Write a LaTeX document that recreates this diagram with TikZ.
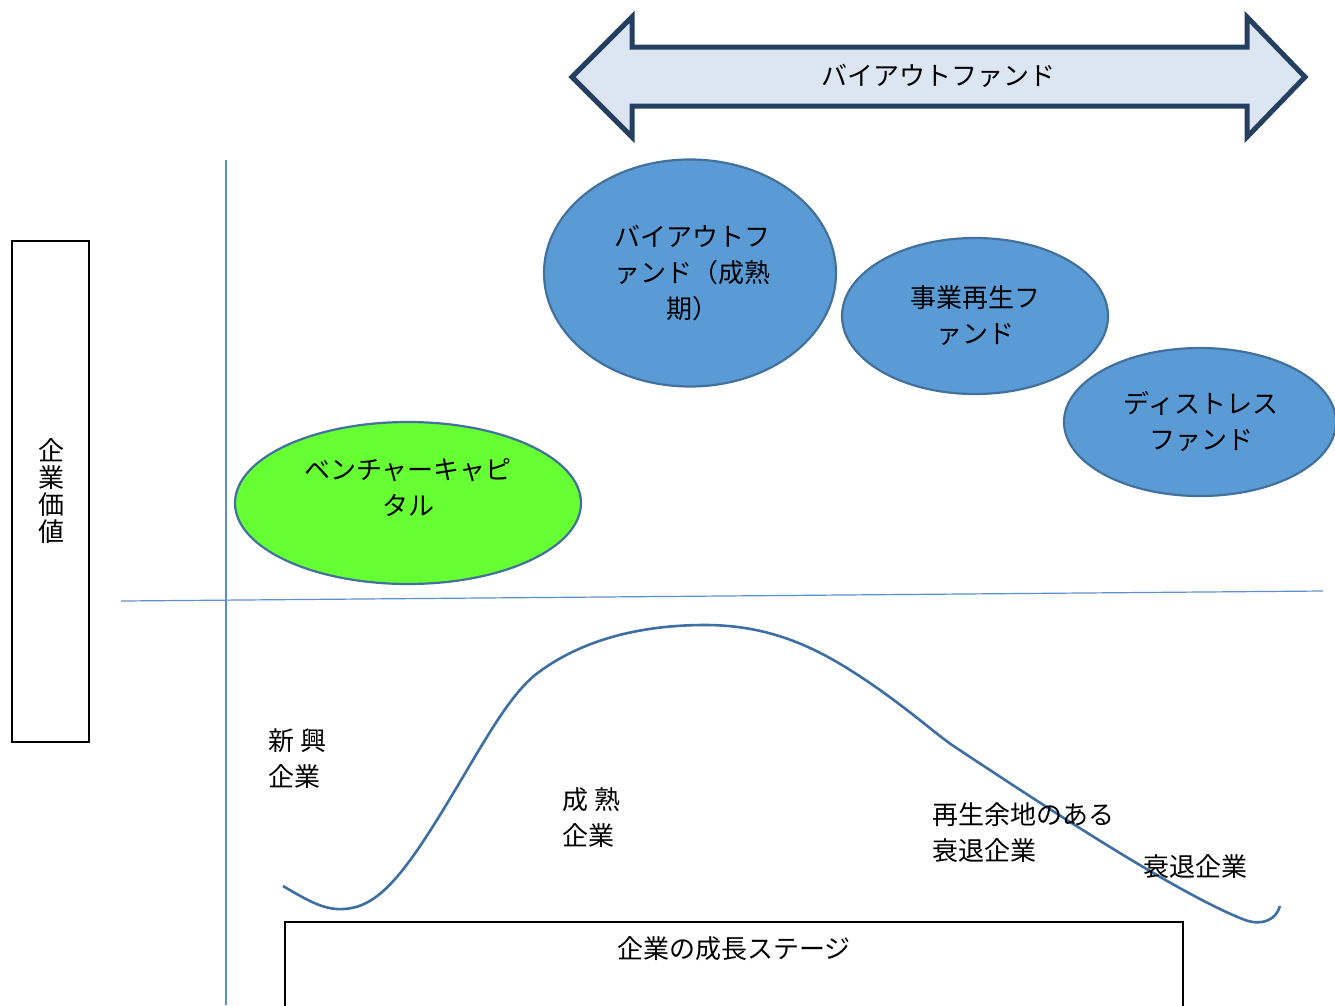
\documentclass[tikz,border=0pt]{standalone}
\usepackage{fontspec}
\newfontfamily\jp{Noto Sans CJK JP}
\usetikzlibrary{shapes.geometric}
\definecolor{ellfill}{HTML}{5B9BD5}
\definecolor{elldraw}{HTML}{41719C}
\definecolor{vcfill}{HTML}{66FF33}
\definecolor{arrfill}{HTML}{DCE6F2}
\definecolor{arrdraw}{HTML}{243F60}
\definecolor{axis}{HTML}{5B8FCF}
\definecolor{curvec}{HTML}{3E6FA3}
\begin{document}
\begin{tikzpicture}[x=1pt,y=-1pt,
  every node/.style={font=\jp\fontsize{26}{36}\selectfont, text=black},
  fundell/.style={ellipse, draw=elldraw, line width=2.2pt, fill=ellfill, inner sep=0pt},
  label/.style={align=left, anchor=west, inner sep=0pt},
  boxframe/.style={draw=black, line width=1.1pt},
  axisline/.style={draw=axis, line width=1.2pt},
  curveline/.style={draw=curvec, line width=2.6pt, line join=round}
]
\useasboundingbox (0,0) rectangle (1335,1005);
\fill[white] (0,0) rectangle (1335,1005);

% double arrow
\draw[fill=arrfill, draw=arrdraw, line width=5pt, line join=miter]
  (572,77) -- (632,17) -- (632,47) -- (1247,47) -- (1247,17) -- (1305,77)
  -- (1247,137) -- (1247,106) -- (632,106) -- (632,137) -- cycle;
\node (bo_arrow) at (938,76) {バイアウトファンド};

% axes
\coordinate (vtop) at (226,160);
\coordinate (vbot) at (226,1005);
\coordinate (hl) at (121,601);
\coordinate (hr) at (1323,591);
\draw[axisline] (vtop) -- (vbot);
\draw[axisline] (hl) -- (hr);

% left vertical label box
\node[boxframe, minimum width=77pt, minimum height=501pt, inner sep=0pt] (valbox) at (50.5,491.5) {};
\node[align=center, font=\jp\fontsize{26}{27}\selectfont] (valtext) at (51,491) {企\\業\\価\\値};

% ellipses
\node[fundell, fill=vcfill, minimum width=346pt, minimum height=162pt] (vc) at (408,503) {};
\node[align=center] (vctext) at (408,488) {ベンチャーキャピ\\タル};

\node[fundell, minimum width=292pt, minimum height=227pt] (bo) at (690,273) {};
\node[align=center] (botext) at (692,273) {バイアウトフ\\ァンド（成熟\\期）\hspace{8pt}};

\node[fundell, minimum width=266pt, minimum height=156pt] (jg) at (975,316) {};
\node[align=center] (jgtext) at (975,316) {事業再生フ\\ァンド};

\node[fundell, minimum width=272pt, minimum height=148pt] (ds) at (1200,422) {};
\node[align=center] (dstext) at (1201,421) {ディストレス\\ファンド};

% growth curve
\draw[curveline] (283,886) .. controls (310,902) and (325,910) .. (343,909)
  .. controls (375,908) and (400,880) .. (440,815)
  .. controls (480,750) and (505,700) .. (535,675)
  .. controls (580,640) and (640,625) .. (705,625)
  .. controls (780,625) and (830,655) .. (880,690)
  .. controls (915,715) and (935,733) .. (952,745)
  .. controls (1050,810) and (1180,895) .. (1245,920)
  .. controls (1262,926) and (1276,920) .. (1280,906);

% stage labels
\node[label] (sh) at (268,759) {新\hspace{6pt}興\\企業};
\node[label] (sj) at (562,818) {成\hspace{6pt}熟\\企業};
\node[label] (sr) at (932,833) {再生余地のある\\衰退企業};
\node[label] (st) at (1143,867) {衰退企業};

% bottom box
\draw[boxframe] (285,1010) -- (285,922) -- (1183,922) -- (1183,1010);
\node (stage) at (734,949) {企業の成長ステージ};
\end{tikzpicture}
\end{document}
